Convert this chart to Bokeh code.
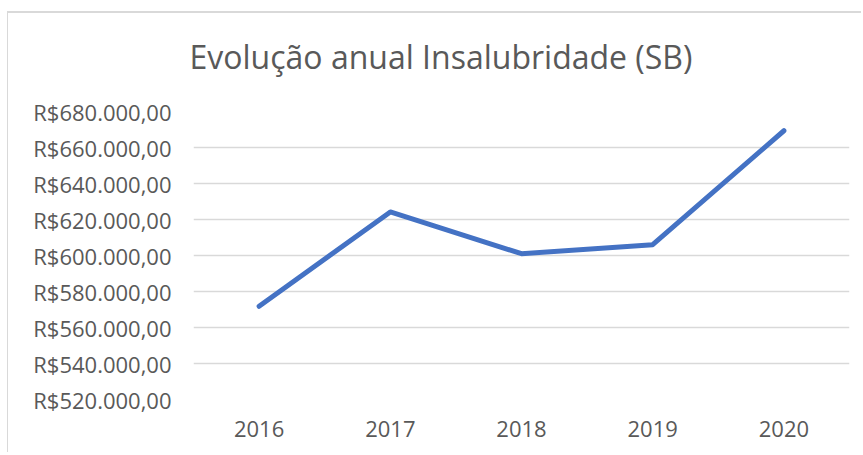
from bokeh.plotting import figure
from bokeh.models import FixedTicker, Title
from bokeh.embed import file_html
from bokeh.resources import INLINE

years = ["2016", "2017", "2018", "2019", "2020"]
values = [571800, 624200, 601000, 606000, 669300]
y_ticks = [520000, 540000, 560000, 580000, 600000, 620000, 640000, 660000, 680000]
y_tick_labels = ["R$520.000,00", "R$540.000,00", "R$560.000,00", "R$580.000,00",
                 "R$600.000,00", "R$620.000,00", "R$640.000,00", "R$660.000,00",
                 "R$680.000,00"]
title_text = "Evolução anual Insalubridade (SB)"

FONT = "Open Sans"
GRAY = "#595959"

p = figure(x_range=years, y_range=(y_ticks[0], y_ticks[-1]),
           width=854, height=441, output_backend="svg", toolbar_location=None,
           min_border_left=185, min_border_right=13, min_border_top=98,
           min_border_bottom=55, outline_line_color=None,
           styles={"border-left": "1px solid #d9d9d9",
                   "border-top": "2px solid #d9d9d9",
                   "margin-top": "11px", "margin-left": "7px"})

p.title = Title(text=title_text, text_font=FONT, text_font_size="32px",
                text_font_style="normal", text_color=GRAY, align="left",
                offset=-4, standoff=10)

# empty spacer between title and plot area
spacer = Title(text=" ", text_font=FONT, text_font_size="1px", standoff=26)
p.add_layout(spacer, "above")

p.line(x=years, y=values, line_color="#4472C4", line_width=5,
       line_cap="round", line_join="round")

p.yaxis.ticker = FixedTicker(ticks=y_ticks)
p.yaxis.major_label_overrides = {v: s for v, s in zip(y_ticks, y_tick_labels)}
for ax in (p.xaxis[0], p.yaxis[0]):
    ax.axis_line_color = None
    ax.major_tick_line_color = None
    ax.minor_tick_line_color = None
    ax.major_tick_out = 0
    ax.major_tick_in = 0
    ax.major_label_text_font = FONT
    ax.major_label_text_font_size = "22px"
    ax.major_label_text_color = GRAY
p.yaxis.major_label_standoff = 22
p.xaxis.major_label_standoff = 21

p.xgrid.grid_line_color = None
p.ygrid.grid_line_color = "#d9d9d9"
p.ygrid.grid_line_width = 1.5

open("out.html", "w").write(file_html(p, INLINE))
